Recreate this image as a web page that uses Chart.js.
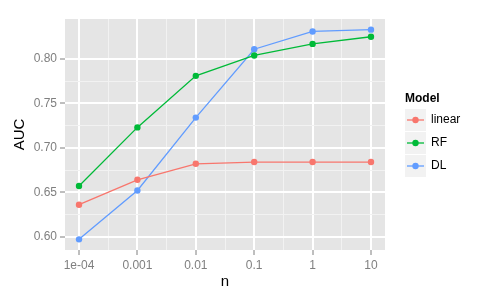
<!DOCTYPE html>
<html>
<head>
<meta charset="utf-8">
<script src="https://cdn.jsdelivr.net/npm/chart.js@4"></script>
<style>
  html, body { margin: 0; padding: 0; background: #fff; }
</style>
</head>
<body>
<canvas id="chart" width="500" height="300"></canvas>
<script>
const nLabels = ["1e-04", "0.001", "0.01", "0.1", "1", "10"];
const models = ["linear", "RF", "DL"];
const linearAuc = [0.636, 0.664, 0.682, 0.684, 0.684, 0.684];
const rfAuc = [0.657, 0.723, 0.781, 0.804, 0.817, 0.825];
const dlAuc = [0.597, 0.652, 0.734, 0.811, 0.831, 0.833];
const modelColors = ["#F8766D", "#00BA38", "#619CFF"];
const yTicks = [0.60, 0.65, 0.70, 0.75, 0.80];

const FONT = "'Liberation Sans', Arial, sans-serif";

function toPoints(values) {
  return values.map((v, i) => ({ x: i, y: v }));
}

const series = [linearAuc, rfAuc, dlAuc];
const datasets = series.map((values, i) => ({
  label: models[i],
  data: toPoints(values),
  borderColor: modelColors[i],
  backgroundColor: modelColors[i],
  borderWidth: 1.3,
  pointRadius: 3.2,
  pointBorderWidth: 0,
  pointHoverRadius: 3.2,
  tension: 0,
}));

// major ticks plus the minor midpoints ggplot draws
const xMajor = nLabels.map((_, i) => i);
const xAll = [];
xMajor.forEach((v, i) => {
  xAll.push(v);
  if (i < xMajor.length - 1) xAll.push(v + 0.5);
});
const yAll = [];
yTicks.forEach((v, i) => {
  yAll.push(v);
  if (i < yTicks.length - 1) yAll.push((v + yTicks[i + 1]) / 2);
});

const isMajorX = (v) => Number.isInteger(v);
const isMajorY = (v) => yTicks.some((t) => Math.abs(t - v) < 1e-9);

// grey panel behind the grid
const panelBg = {
  id: "panelBg",
  beforeDraw(chart) {
    const { ctx, chartArea: a } = chart;
    ctx.save();
    ctx.fillStyle = "#E5E5E5";
    ctx.fillRect(a.left, a.top, a.right - a.left, a.bottom - a.top);
    ctx.restore();
  },
};

// ggplot style legend on the right
const ggLegend = {
  id: "ggLegend",
  afterDraw(chart) {
    const ctx = chart.ctx;
    const x0 = 405;
    ctx.save();
    ctx.fillStyle = "#000";
    ctx.font = "bold 12px " + FONT;
    ctx.textAlign = "left";
    ctx.textBaseline = "middle";
    ctx.fillText("Model", x0, 99);
    chart.data.datasets.forEach((ds, i) => {
      const cy = 120 + i * 23;
      ctx.fillStyle = "#F2F2F2";
      ctx.fillRect(x0, cy - 11, 21, 22);
      ctx.strokeStyle = ds.borderColor;
      ctx.lineWidth = 1.3;
      ctx.beginPath();
      ctx.moveTo(x0 + 2, cy);
      ctx.lineTo(x0 + 19, cy);
      ctx.stroke();
      ctx.fillStyle = ds.borderColor;
      ctx.beginPath();
      ctx.arc(x0 + 10.5, cy, 3.2, 0, Math.PI * 2);
      ctx.fill();
      ctx.fillStyle = "#000";
      ctx.font = "12px " + FONT;
      ctx.fillText(ds.label, x0 + 26, cy);
    });
    ctx.restore();
  },
};

new Chart(document.getElementById("chart"), {
  type: "line",
  data: { datasets: datasets },
  options: {
    responsive: false,
    animation: false,
    devicePixelRatio: 1,
    layout: { padding: { top: 19, right: 115, left: 0, bottom: 0 } },
    plugins: {
      legend: { display: false },
      tooltip: { enabled: false },
    },
    scales: {
      x: {
        type: "linear",
        min: -0.24,
        max: 5.24,
        afterBuildTicks: (scale) => {
          scale.ticks = xAll.map((v) => ({ value: v }));
        },
        afterFit: (scale) => {
          scale.height = 50;
        },
        border: { display: false },
        grid: {
          color: (c) => (isMajorX(c.tick.value) ? "#FFFFFF" : "#F2F2F2"),
          lineWidth: (c) => (isMajorX(c.tick.value) ? 2 : 1),
          tickColor: (c) => (isMajorX(c.tick.value) ? "#7F7F7F" : "rgba(0,0,0,0)"),
          tickWidth: 1,
          tickLength: 5,
        },
        ticks: {
          autoSkip: false,
          maxRotation: 0,
          padding: 3,
          color: "#7F7F7F",
          font: { family: FONT, size: 12 },
          callback: (v) => (isMajorX(v) ? nLabels[v] : ""),
        },
        title: {
          display: true,
          text: "n",
          color: "#000",
          font: { family: FONT, size: 15 },
          padding: { top: 0, bottom: 9 },
        },
      },
      y: {
        min: 0.585,
        max: 0.845,
        afterBuildTicks: (scale) => {
          scale.ticks = yAll.map((v) => ({ value: v }));
        },
        afterFit: (scale) => {
          scale.width = 65;
        },
        border: { display: false },
        grid: {
          color: (c) => (isMajorY(c.tick.value) ? "#FFFFFF" : "#F2F2F2"),
          lineWidth: (c) => (isMajorY(c.tick.value) ? 2 : 1),
          tickColor: (c) => (isMajorY(c.tick.value) ? "#7F7F7F" : "rgba(0,0,0,0)"),
          tickWidth: 1,
          tickLength: 5,
        },
        ticks: {
          padding: 3,
          color: "#7F7F7F",
          font: { family: FONT, size: 12 },
          callback: (v) => (isMajorY(v) ? v.toFixed(2) : ""),
        },
        title: {
          display: true,
          text: "AUC",
          color: "#000",
          font: { family: FONT, size: 15 },
          padding: { top: 11, bottom: 0 },
        },
      },
    },
  },
  plugins: [panelBg, ggLegend],
});
</script>
</body>
</html>
